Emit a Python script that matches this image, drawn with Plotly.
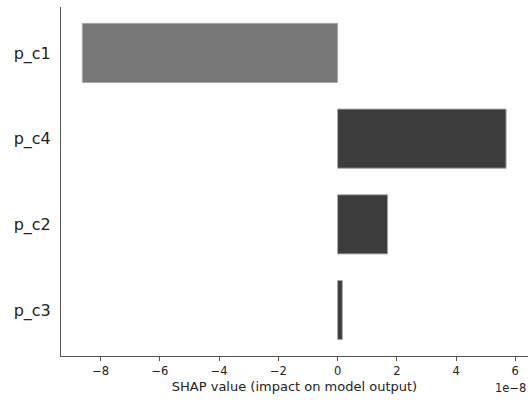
import plotly.graph_objects as go

features = ["p_c3", "p_c2", "p_c4", "p_c1"]
shap_values = [0.16e-8, 1.69e-8, 5.69e-8, -8.62e-8]
bar_colors = ["#3c3c3c", "#3c3c3c", "#3c3c3c", "#787878"]
tick_vals = [-8e-8, -6e-8, -4e-8, -2e-8, 0, 2e-8, 4e-8, 6e-8]
tick_text = ["\u22128", "\u22126", "\u22124", "\u22122", "0", "2", "4", "6"]

fig = go.Figure()
fig.add_trace(go.Bar(
    x=shap_values, y=features, orientation="h",
    marker=dict(color=bar_colors, line=dict(color="#a8a8a8", width=1)),
))

font = "DejaVu Sans"
fig.update_layout(
    width=531, height=400,
    margin=dict(l=61, r=3, t=7, b=44, autoexpand=False),
    paper_bgcolor="white", plot_bgcolor="white",
    bargap=0.31, showlegend=False,
    font=dict(family=font, color="#222222"),
    xaxis=dict(
        range=[-9.34e-8, 6.43e-8], tickvals=tick_vals, ticktext=tick_text,
        showline=True, linecolor="#555555", linewidth=1,
        ticks="outside", ticklen=4, tickcolor="#555555",
        showgrid=False, zeroline=False, automargin=False,
        tickfont=dict(family=font, size=11.5, color="#222222"),
        title=dict(text="SHAP value (impact on model output)",
                   font=dict(family=font, size=13, color="#222222"), standoff=5),
    ),
    yaxis=dict(
        type="category", categoryorder="array", categoryarray=features,
        range=[-0.536, 3.536], automargin=False,
        showline=True, linecolor="#555555", linewidth=1,
        ticks="", showgrid=False, zeroline=False, ticklabelstandoff=6,
        tickfont=dict(family=font, size=16, color="#222222"),
    ),
    annotations=[dict(
        text="1e\u22128", xref="paper", yref="paper", x=1, y=0,
        xanchor="right", yanchor="top", yshift=-23, showarrow=False,
        font=dict(family=font, size=11.5, color="#222222"),
    )],
)

fig.write_html("out.html", config={"displayModeBar": False},
               post_script="document.body.style.margin='0px';")
